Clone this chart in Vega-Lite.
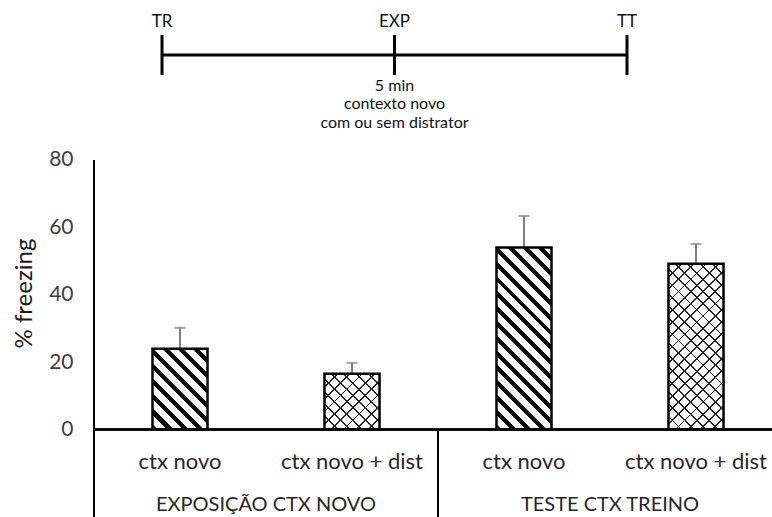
{
 "$schema": "https://vega.github.io/schema/vega-lite/v6.json",
 "width": 678,
 "height": 517,
 "autosize": {"type": "none"},
 "padding": {"left": 94, "top": 0, "right": 0, "bottom": 0},
 "background": "white",
 "config": {"view": {"stroke": null}, "font": "Lato", "text": {"font": "Lato"}},
 "datasets": {
  "bars": [
   {"group": "EXPOSIÇÃO CTX NOVO", "cond": "ctx novo", "mean": 24.0, "sem": 6.2},
   {"group": "EXPOSIÇÃO CTX NOVO", "cond": "ctx novo + dist", "mean": 16.6, "sem": 3.2},
   {"group": "TESTE CTX TREINO", "cond": "ctx novo", "mean": 54.0, "sem": 9.4},
   {"group": "TESTE CTX TREINO", "cond": "ctx novo + dist", "mean": 49.2, "sem": 5.9}
  ],
  "groups": [{"group": "EXPOSIÇÃO CTX NOVO"}, {"group": "TESTE CTX TREINO"}],
  "events": [{"event": "TR", "t": 0}, {"event": "EXP", "t": 1}, {"event": "TT", "t": 2}]
 },
 "resolve": {"scale": {"x": "independent"}},
 "layer": [
  {
   "data": {"name": "bars"},
   "layer": [
    {
     "mark": {"type": "errorbar", "color": "#7f7f7f", "thickness": 2, "ticks": {"size": 11, "thickness": 2}},
     "encoding": {
      "x": {"field": "group", "type": "nominal", "scale": {"domain": ["EXPOSIÇÃO CTX NOVO", "TESTE CTX TREINO"], "range": [0, 688], "paddingInner": 0, "paddingOuter": 0}, "axis": null},
      "xOffset": {"field": "cond", "type": "nominal", "scale": {"domain": ["ctx novo", "ctx novo + dist"], "paddingInner": 0.68, "paddingOuter": 0.34}},
      "y": {"field": "mean", "type": "quantitative", "scale": {"domain": [-25.93, 127.46], "nice": false, "zero": false},
        "axis": {"title": "% freezing", "values": [0, 20, 40, 60, 80], "domain": false, "ticks": false, "tickSize": 0, "grid": false,
          "labelFont": "Lato", "labelFontSize": 21, "labelColor": "#404040", "labelPadding": 21,
          "titleFont": "Lato", "titleFontSize": 24, "titleColor": "#1a1a1a", "titleFontWeight": "normal",
          "titleX": -70, "titleY": 293, "titleAngle": 270, "titleBaseline": "middle", "titleAlign": "center"}},
      "yError": {"field": "sem"}
     }
    },
    {
     "transform": [{"filter": "datum.group == 'EXPOSIÇÃO CTX NOVO' && datum.cond == 'ctx novo'"}],
     "mark": {"type": "bar", "stroke": "black", "strokeWidth": 2.5,
      "fill": {"gradient": "linear", "x1": 0, "y1": 1, "x2": 0.7813, "y2": -0.1483, "stops": [
       {"offset": 0, "color": "#000"}, {"offset": 0.04444, "color": "#000"}, {"offset": 0.04444, "color": "#fff"}, {"offset": 0.11111, "color": "#fff"},
       {"offset": 0.11111, "color": "#000"}, {"offset": 0.15556, "color": "#000"}, {"offset": 0.15556, "color": "#fff"}, {"offset": 0.22222, "color": "#fff"},
       {"offset": 0.22222, "color": "#000"}, {"offset": 0.26667, "color": "#000"}, {"offset": 0.26667, "color": "#fff"}, {"offset": 0.33333, "color": "#fff"},
       {"offset": 0.33333, "color": "#000"}, {"offset": 0.37778, "color": "#000"}, {"offset": 0.37778, "color": "#fff"}, {"offset": 0.44444, "color": "#fff"},
       {"offset": 0.44444, "color": "#000"}, {"offset": 0.48889, "color": "#000"}, {"offset": 0.48889, "color": "#fff"}, {"offset": 0.55556, "color": "#fff"},
       {"offset": 0.55556, "color": "#000"}, {"offset": 0.6, "color": "#000"}, {"offset": 0.6, "color": "#fff"}, {"offset": 0.66667, "color": "#fff"},
       {"offset": 0.66667, "color": "#000"}, {"offset": 0.71111, "color": "#000"}, {"offset": 0.71111, "color": "#fff"}, {"offset": 0.77778, "color": "#fff"},
       {"offset": 0.77778, "color": "#000"}, {"offset": 0.82222, "color": "#000"}, {"offset": 0.82222, "color": "#fff"}, {"offset": 0.88889, "color": "#fff"},
       {"offset": 0.88889, "color": "#000"}, {"offset": 0.93333, "color": "#000"}, {"offset": 0.93333, "color": "#fff"}, {"offset": 1, "color": "#fff"}]}},
     "encoding": {
      "x": {"field": "group", "type": "nominal"},
      "xOffset": {"field": "cond", "type": "nominal"},
      "y": {"field": "mean", "type": "quantitative", "stack": null},
      "y2": {"datum": 0}
     }
    },
    {
     "transform": [{"filter": "datum.group == 'TESTE CTX TREINO' && datum.cond == 'ctx novo'"}],
     "mark": {"type": "bar", "stroke": "black", "strokeWidth": 2.5,
      "fill": {"gradient": "linear", "x1": 0, "y1": 1, "x2": 0.36087, "y2": -0.19328, "stops": [
       {"offset": 0, "color": "#000"}, {"offset": 0.025, "color": "#000"}, {"offset": 0.025, "color": "#fff"}, {"offset": 0.0625, "color": "#fff"},
       {"offset": 0.0625, "color": "#000"}, {"offset": 0.0875, "color": "#000"}, {"offset": 0.0875, "color": "#fff"}, {"offset": 0.125, "color": "#fff"},
       {"offset": 0.125, "color": "#000"}, {"offset": 0.15, "color": "#000"}, {"offset": 0.15, "color": "#fff"}, {"offset": 0.1875, "color": "#fff"},
       {"offset": 0.1875, "color": "#000"}, {"offset": 0.2125, "color": "#000"}, {"offset": 0.2125, "color": "#fff"}, {"offset": 0.25, "color": "#fff"},
       {"offset": 0.25, "color": "#000"}, {"offset": 0.275, "color": "#000"}, {"offset": 0.275, "color": "#fff"}, {"offset": 0.3125, "color": "#fff"},
       {"offset": 0.3125, "color": "#000"}, {"offset": 0.3375, "color": "#000"}, {"offset": 0.3375, "color": "#fff"}, {"offset": 0.375, "color": "#fff"},
       {"offset": 0.375, "color": "#000"}, {"offset": 0.4, "color": "#000"}, {"offset": 0.4, "color": "#fff"}, {"offset": 0.4375, "color": "#fff"},
       {"offset": 0.4375, "color": "#000"}, {"offset": 0.4625, "color": "#000"}, {"offset": 0.4625, "color": "#fff"}, {"offset": 0.5, "color": "#fff"},
       {"offset": 0.5, "color": "#000"}, {"offset": 0.525, "color": "#000"}, {"offset": 0.525, "color": "#fff"}, {"offset": 0.5625, "color": "#fff"},
       {"offset": 0.5625, "color": "#000"}, {"offset": 0.5875, "color": "#000"}, {"offset": 0.5875, "color": "#fff"}, {"offset": 0.625, "color": "#fff"},
       {"offset": 0.625, "color": "#000"}, {"offset": 0.65, "color": "#000"}, {"offset": 0.65, "color": "#fff"}, {"offset": 0.6875, "color": "#fff"},
       {"offset": 0.6875, "color": "#000"}, {"offset": 0.7125, "color": "#000"}, {"offset": 0.7125, "color": "#fff"}, {"offset": 0.75, "color": "#fff"},
       {"offset": 0.75, "color": "#000"}, {"offset": 0.775, "color": "#000"}, {"offset": 0.775, "color": "#fff"}, {"offset": 0.8125, "color": "#fff"},
       {"offset": 0.8125, "color": "#000"}, {"offset": 0.8375, "color": "#000"}, {"offset": 0.8375, "color": "#fff"}, {"offset": 0.875, "color": "#fff"},
       {"offset": 0.875, "color": "#000"}, {"offset": 0.9, "color": "#000"}, {"offset": 0.9, "color": "#fff"}, {"offset": 0.9375, "color": "#fff"},
       {"offset": 0.9375, "color": "#000"}, {"offset": 0.9625, "color": "#000"}, {"offset": 0.9625, "color": "#fff"}, {"offset": 1, "color": "#fff"}]}},
     "encoding": {
      "x": {"field": "group", "type": "nominal"},
      "xOffset": {"field": "cond", "type": "nominal"},
      "y": {"field": "mean", "type": "quantitative", "stack": null},
      "y2": {"datum": 0}
     }
    },
    {
     "transform": [{"filter": "datum.group == 'EXPOSIÇÃO CTX NOVO' && datum.cond == 'ctx novo + dist'"}],
     "mark": {"type": "bar", "strokeWidth": 0,
      "fill": {"gradient": "linear", "x1": 0, "y1": 1, "x2": 0.99172, "y2": -0.00812, "stops": [
       {"offset": 0, "color": "#222"}, {"offset": 0.01667, "color": "#222"}, {"offset": 0.01667, "color": "#fff"}, {"offset": 0.11111, "color": "#fff"},
       {"offset": 0.11111, "color": "#222"}, {"offset": 0.12778, "color": "#222"}, {"offset": 0.12778, "color": "#fff"}, {"offset": 0.22222, "color": "#fff"},
       {"offset": 0.22222, "color": "#222"}, {"offset": 0.23889, "color": "#222"}, {"offset": 0.23889, "color": "#fff"}, {"offset": 0.33333, "color": "#fff"},
       {"offset": 0.33333, "color": "#222"}, {"offset": 0.35, "color": "#222"}, {"offset": 0.35, "color": "#fff"}, {"offset": 0.44444, "color": "#fff"},
       {"offset": 0.44444, "color": "#222"}, {"offset": 0.46111, "color": "#222"}, {"offset": 0.46111, "color": "#fff"}, {"offset": 0.55556, "color": "#fff"},
       {"offset": 0.55556, "color": "#222"}, {"offset": 0.57222, "color": "#222"}, {"offset": 0.57222, "color": "#fff"}, {"offset": 0.66667, "color": "#fff"},
       {"offset": 0.66667, "color": "#222"}, {"offset": 0.68333, "color": "#222"}, {"offset": 0.68333, "color": "#fff"}, {"offset": 0.77778, "color": "#fff"},
       {"offset": 0.77778, "color": "#222"}, {"offset": 0.79444, "color": "#222"}, {"offset": 0.79444, "color": "#fff"}, {"offset": 0.88889, "color": "#fff"},
       {"offset": 0.88889, "color": "#222"}, {"offset": 0.90556, "color": "#222"}, {"offset": 0.90556, "color": "#fff"}, {"offset": 1, "color": "#fff"}]}},
     "encoding": {
      "x": {"field": "group", "type": "nominal"},
      "xOffset": {"field": "cond", "type": "nominal"},
      "y": {"field": "mean", "type": "quantitative", "stack": null},
      "y2": {"datum": 0}
     }
    },
    {
     "transform": [{"filter": "datum.group == 'EXPOSIÇÃO CTX NOVO' && datum.cond == 'ctx novo + dist'"}],
     "mark": {"type": "bar", "stroke": "black", "strokeWidth": 2.5,
      "fill": {"gradient": "linear", "x1": 0, "y1": 0, "x2": 0.99172, "y2": 1.00812, "stops": [
       {"offset": 0, "color": "#222"}, {"offset": 0.01667, "color": "#222"}, {"offset": 0.01667, "color": "rgba(0,0,0,0)"}, {"offset": 0.11111, "color": "rgba(0,0,0,0)"},
       {"offset": 0.11111, "color": "#222"}, {"offset": 0.12778, "color": "#222"}, {"offset": 0.12778, "color": "rgba(0,0,0,0)"}, {"offset": 0.22222, "color": "rgba(0,0,0,0)"},
       {"offset": 0.22222, "color": "#222"}, {"offset": 0.23889, "color": "#222"}, {"offset": 0.23889, "color": "rgba(0,0,0,0)"}, {"offset": 0.33333, "color": "rgba(0,0,0,0)"},
       {"offset": 0.33333, "color": "#222"}, {"offset": 0.35, "color": "#222"}, {"offset": 0.35, "color": "rgba(0,0,0,0)"}, {"offset": 0.44444, "color": "rgba(0,0,0,0)"},
       {"offset": 0.44444, "color": "#222"}, {"offset": 0.46111, "color": "#222"}, {"offset": 0.46111, "color": "rgba(0,0,0,0)"}, {"offset": 0.55556, "color": "rgba(0,0,0,0)"},
       {"offset": 0.55556, "color": "#222"}, {"offset": 0.57222, "color": "#222"}, {"offset": 0.57222, "color": "rgba(0,0,0,0)"}, {"offset": 0.66667, "color": "rgba(0,0,0,0)"},
       {"offset": 0.66667, "color": "#222"}, {"offset": 0.68333, "color": "#222"}, {"offset": 0.68333, "color": "rgba(0,0,0,0)"}, {"offset": 0.77778, "color": "rgba(0,0,0,0)"},
       {"offset": 0.77778, "color": "#222"}, {"offset": 0.79444, "color": "#222"}, {"offset": 0.79444, "color": "rgba(0,0,0,0)"}, {"offset": 0.88889, "color": "rgba(0,0,0,0)"},
       {"offset": 0.88889, "color": "#222"}, {"offset": 0.90556, "color": "#222"}, {"offset": 0.90556, "color": "rgba(0,0,0,0)"}, {"offset": 1, "color": "rgba(0,0,0,0)"}]}},
     "encoding": {
      "x": {"field": "group", "type": "nominal"},
      "xOffset": {"field": "cond", "type": "nominal"},
      "y": {"field": "mean", "type": "quantitative", "stack": null},
      "y2": {"datum": 0}
     }
    },
    {
     "transform": [{"filter": "datum.group == 'TESTE CTX TREINO' && datum.cond == 'ctx novo + dist'"}],
     "mark": {"type": "bar", "strokeWidth": 0,
      "fill": {"gradient": "linear", "x1": 0, "y1": 1, "x2": 0.39828, "y2": -0.19976, "stops": [
       {"offset": 0, "color": "#222"}, {"offset": 0.00833, "color": "#222"}, {"offset": 0.00833, "color": "#fff"}, {"offset": 0.05556, "color": "#fff"},
       {"offset": 0.05556, "color": "#222"}, {"offset": 0.06389, "color": "#222"}, {"offset": 0.06389, "color": "#fff"}, {"offset": 0.11111, "color": "#fff"},
       {"offset": 0.11111, "color": "#222"}, {"offset": 0.11944, "color": "#222"}, {"offset": 0.11944, "color": "#fff"}, {"offset": 0.16667, "color": "#fff"},
       {"offset": 0.16667, "color": "#222"}, {"offset": 0.175, "color": "#222"}, {"offset": 0.175, "color": "#fff"}, {"offset": 0.22222, "color": "#fff"},
       {"offset": 0.22222, "color": "#222"}, {"offset": 0.23056, "color": "#222"}, {"offset": 0.23056, "color": "#fff"}, {"offset": 0.27778, "color": "#fff"},
       {"offset": 0.27778, "color": "#222"}, {"offset": 0.28611, "color": "#222"}, {"offset": 0.28611, "color": "#fff"}, {"offset": 0.33333, "color": "#fff"},
       {"offset": 0.33333, "color": "#222"}, {"offset": 0.34167, "color": "#222"}, {"offset": 0.34167, "color": "#fff"}, {"offset": 0.38889, "color": "#fff"},
       {"offset": 0.38889, "color": "#222"}, {"offset": 0.39722, "color": "#222"}, {"offset": 0.39722, "color": "#fff"}, {"offset": 0.44444, "color": "#fff"},
       {"offset": 0.44444, "color": "#222"}, {"offset": 0.45278, "color": "#222"}, {"offset": 0.45278, "color": "#fff"}, {"offset": 0.5, "color": "#fff"},
       {"offset": 0.5, "color": "#222"}, {"offset": 0.50833, "color": "#222"}, {"offset": 0.50833, "color": "#fff"}, {"offset": 0.55556, "color": "#fff"},
       {"offset": 0.55556, "color": "#222"}, {"offset": 0.56389, "color": "#222"}, {"offset": 0.56389, "color": "#fff"}, {"offset": 0.61111, "color": "#fff"},
       {"offset": 0.61111, "color": "#222"}, {"offset": 0.61944, "color": "#222"}, {"offset": 0.61944, "color": "#fff"}, {"offset": 0.66667, "color": "#fff"},
       {"offset": 0.66667, "color": "#222"}, {"offset": 0.675, "color": "#222"}, {"offset": 0.675, "color": "#fff"}, {"offset": 0.72222, "color": "#fff"},
       {"offset": 0.72222, "color": "#222"}, {"offset": 0.73056, "color": "#222"}, {"offset": 0.73056, "color": "#fff"}, {"offset": 0.77778, "color": "#fff"},
       {"offset": 0.77778, "color": "#222"}, {"offset": 0.78611, "color": "#222"}, {"offset": 0.78611, "color": "#fff"}, {"offset": 0.83333, "color": "#fff"},
       {"offset": 0.83333, "color": "#222"}, {"offset": 0.84167, "color": "#222"}, {"offset": 0.84167, "color": "#fff"}, {"offset": 0.88889, "color": "#fff"},
       {"offset": 0.88889, "color": "#222"}, {"offset": 0.89722, "color": "#222"}, {"offset": 0.89722, "color": "#fff"}, {"offset": 0.94444, "color": "#fff"},
       {"offset": 0.94444, "color": "#222"}, {"offset": 0.95278, "color": "#222"}, {"offset": 0.95278, "color": "#fff"}, {"offset": 1, "color": "#fff"}]}},
     "encoding": {
      "x": {"field": "group", "type": "nominal"},
      "xOffset": {"field": "cond", "type": "nominal"},
      "y": {"field": "mean", "type": "quantitative", "stack": null},
      "y2": {"datum": 0}
     }
    },
    {
     "transform": [{"filter": "datum.group == 'TESTE CTX TREINO' && datum.cond == 'ctx novo + dist'"}],
     "mark": {"type": "bar", "stroke": "black", "strokeWidth": 2.5,
      "fill": {"gradient": "linear", "x1": 0, "y1": 0, "x2": 0.39828, "y2": 1.19976, "stops": [
       {"offset": 0, "color": "#222"}, {"offset": 0.00833, "color": "#222"}, {"offset": 0.00833, "color": "rgba(0,0,0,0)"}, {"offset": 0.05556, "color": "rgba(0,0,0,0)"},
       {"offset": 0.05556, "color": "#222"}, {"offset": 0.06389, "color": "#222"}, {"offset": 0.06389, "color": "rgba(0,0,0,0)"}, {"offset": 0.11111, "color": "rgba(0,0,0,0)"},
       {"offset": 0.11111, "color": "#222"}, {"offset": 0.11944, "color": "#222"}, {"offset": 0.11944, "color": "rgba(0,0,0,0)"}, {"offset": 0.16667, "color": "rgba(0,0,0,0)"},
       {"offset": 0.16667, "color": "#222"}, {"offset": 0.175, "color": "#222"}, {"offset": 0.175, "color": "rgba(0,0,0,0)"}, {"offset": 0.22222, "color": "rgba(0,0,0,0)"},
       {"offset": 0.22222, "color": "#222"}, {"offset": 0.23056, "color": "#222"}, {"offset": 0.23056, "color": "rgba(0,0,0,0)"}, {"offset": 0.27778, "color": "rgba(0,0,0,0)"},
       {"offset": 0.27778, "color": "#222"}, {"offset": 0.28611, "color": "#222"}, {"offset": 0.28611, "color": "rgba(0,0,0,0)"}, {"offset": 0.33333, "color": "rgba(0,0,0,0)"},
       {"offset": 0.33333, "color": "#222"}, {"offset": 0.34167, "color": "#222"}, {"offset": 0.34167, "color": "rgba(0,0,0,0)"}, {"offset": 0.38889, "color": "rgba(0,0,0,0)"},
       {"offset": 0.38889, "color": "#222"}, {"offset": 0.39722, "color": "#222"}, {"offset": 0.39722, "color": "rgba(0,0,0,0)"}, {"offset": 0.44444, "color": "rgba(0,0,0,0)"},
       {"offset": 0.44444, "color": "#222"}, {"offset": 0.45278, "color": "#222"}, {"offset": 0.45278, "color": "rgba(0,0,0,0)"}, {"offset": 0.5, "color": "rgba(0,0,0,0)"},
       {"offset": 0.5, "color": "#222"}, {"offset": 0.50833, "color": "#222"}, {"offset": 0.50833, "color": "rgba(0,0,0,0)"}, {"offset": 0.55556, "color": "rgba(0,0,0,0)"},
       {"offset": 0.55556, "color": "#222"}, {"offset": 0.56389, "color": "#222"}, {"offset": 0.56389, "color": "rgba(0,0,0,0)"}, {"offset": 0.61111, "color": "rgba(0,0,0,0)"},
       {"offset": 0.61111, "color": "#222"}, {"offset": 0.61944, "color": "#222"}, {"offset": 0.61944, "color": "rgba(0,0,0,0)"}, {"offset": 0.66667, "color": "rgba(0,0,0,0)"},
       {"offset": 0.66667, "color": "#222"}, {"offset": 0.675, "color": "#222"}, {"offset": 0.675, "color": "rgba(0,0,0,0)"}, {"offset": 0.72222, "color": "rgba(0,0,0,0)"},
       {"offset": 0.72222, "color": "#222"}, {"offset": 0.73056, "color": "#222"}, {"offset": 0.73056, "color": "rgba(0,0,0,0)"}, {"offset": 0.77778, "color": "rgba(0,0,0,0)"},
       {"offset": 0.77778, "color": "#222"}, {"offset": 0.78611, "color": "#222"}, {"offset": 0.78611, "color": "rgba(0,0,0,0)"}, {"offset": 0.83333, "color": "rgba(0,0,0,0)"},
       {"offset": 0.83333, "color": "#222"}, {"offset": 0.84167, "color": "#222"}, {"offset": 0.84167, "color": "rgba(0,0,0,0)"}, {"offset": 0.88889, "color": "rgba(0,0,0,0)"},
       {"offset": 0.88889, "color": "#222"}, {"offset": 0.89722, "color": "#222"}, {"offset": 0.89722, "color": "rgba(0,0,0,0)"}, {"offset": 0.94444, "color": "rgba(0,0,0,0)"},
       {"offset": 0.94444, "color": "#222"}, {"offset": 0.95278, "color": "#222"}, {"offset": 0.95278, "color": "rgba(0,0,0,0)"}, {"offset": 1, "color": "rgba(0,0,0,0)"}]}},
     "encoding": {
      "x": {"field": "group", "type": "nominal"},
      "xOffset": {"field": "cond", "type": "nominal"},
      "y": {"field": "mean", "type": "quantitative", "stack": null},
      "y2": {"datum": 0}
     }
    },
    {
     "mark": {"type": "rule", "color": "black", "strokeWidth": 2},
     "encoding": {"y": {"datum": 0}}
    },
    {
     "mark": {"type": "rule", "color": "black", "strokeWidth": 2},
     "encoding": {
      "x": {"datum": "EXPOSIÇÃO CTX NOVO", "bandPosition": 0},
      "y": {"datum": -25.93},
      "y2": {"datum": 80}
     }
    },
    {
     "mark": {"type": "rule", "color": "black", "strokeWidth": 2},
     "encoding": {
      "x": {"datum": "TESTE CTX TREINO", "bandPosition": 0},
      "y": {"datum": -25.93},
      "y2": {"datum": 0}
     }
    },
    {
     "mark": {"type": "text", "fontSize": 22, "color": "#262626", "baseline": "middle"},
     "encoding": {
      "x": {"field": "group", "type": "nominal"},
      "xOffset": {"field": "cond", "type": "nominal"},
      "y": {"datum": -9.61},
      "text": {"field": "cond"}
     }
    },
    {
     "data": {"name": "groups"},
     "mark": {"type": "text", "fontSize": 20, "color": "#262626", "baseline": "middle"},
     "encoding": {
      "x": {"field": "group", "type": "nominal"},
      "y": {"datum": -22.37},
      "text": {"field": "group"}
     }
    }
   ]
  },
  {
   "data": {"name": "events"},
   "layer": [
    {
     "transform": [{"filter": "datum.event == 'TR'"}],
     "mark": {"type": "rule", "color": "black", "strokeWidth": 3},
     "encoding": {
      "x": {"datum": 0, "type": "quantitative", "scale": {"domain": [-0.2925, 2.6237], "nice": false, "zero": false}, "axis": null},
      "x2": {"datum": 2},
      "y": {"datum": 111.14}
     }
    },
    {
     "mark": {"type": "rule", "color": "black", "strokeWidth": 3},
     "encoding": {
      "x": {"field": "t", "type": "quantitative"},
      "y": {"datum": 117.08},
      "y2": {"datum": 105.21}
     }
    },
    {
     "mark": {"type": "text", "fontSize": 17, "color": "#111", "baseline": "middle"},
     "encoding": {
      "x": {"field": "t", "type": "quantitative"},
      "y": {"datum": 120.93},
      "text": {"field": "event"}
     }
    },
    {
     "transform": [{"filter": "datum.event == 'EXP'"}],
     "mark": {"type": "text", "fontSize": 16, "color": "#111", "baseline": "top", "lineHeight": 18.5,
      "text": ["5 min", "contexto novo", "com ou sem distrator"]},
     "encoding": {
      "x": {"field": "t", "type": "quantitative"},
      "y": {"datum": 104.32}
     }
    }
   ]
  }
 ]
}
